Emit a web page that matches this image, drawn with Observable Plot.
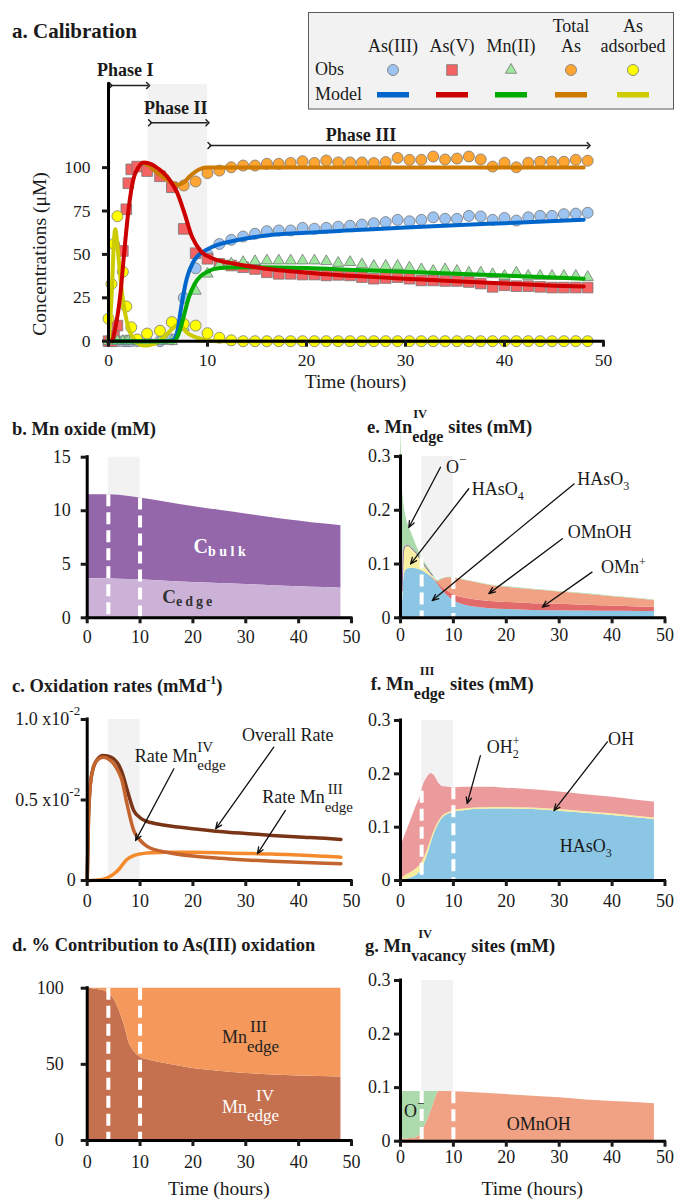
<!DOCTYPE html>
<html><head><meta charset="utf-8">
<script src="https://cdn.jsdelivr.net/npm/d3@7"></script>
<script src="https://cdn.jsdelivr.net/npm/@observablehq/plot@0.6"></script>
<style>
html,body{margin:0;padding:0;background:#fff;}
#fig{position:relative;width:675px;height:1200px;overflow:hidden;background:#fff;}
</style></head><body><div id="fig"></div>
<script>
const FONT = "'Liberation Serif','Times New Roman',serif";

// ================= DATA =================
// Panel a – observations (hours, µM)
const obsTime = [0,0.3,0.55,0.9,1.45,1.8,2.0,2.3,2.9,3.9,5.2,6.4,7.6,8.8,10.0,11.2,12.4,13.6,14.8,16.0,17.2,18.4,19.6,20.8,22.0,23.2,24.4,25.6,26.8,28.0,29.2,30.4,31.6,32.8,34.0,35.2,36.4,37.6,38.8,40.0,41.2,42.4,43.6,44.8,46.0,47.2,48.4];
const asIIIObs = [0,0,0,0,0,0,0,0,0,0,0,1,25,42, 50,56,58.4,60.3,61.9,63.4,63.8,63.8,65.3,64.8,65.3, 66,66.5,67.2,68,68.6,69.9,69.1,69.9,71.4,70.5,70.5,72.2,71.9,69.9,71,69.5,71.4,72.2,72.2,73.2,73.5,74];
const asVObs = [0,0,3,9,52,76,91,99,100.6,98,95,88.7,64.7,50.7, 47.5,44.6,43.6,42.6,41.6,39.7,38.8,38.8,38.4,38.4,37.9, 38.2,37.9,36.9,36,36.4,36.9,36,35,35,34.7,34.7,34.1,33.2,31.3,32.2,31.7,31.7,31.3,30.9,30.9,30.9,30.9];
const mnIIObs = [0,0,0,0,0,0,0,0,0,0,0,0,8,29, 38.8,44,44.6,45.5,46,46.4,46.4,46.4,46.4,46.4,46, 45,45.5,44.2,43.3,43.3,43.3,42.3,41.3,40.4,41.3,40.4,39.4,39.4,38.5,37.5,39.4,37.5,37.5,37.5,37.5,37.5,36.9];
const totalAsObs = [null,null,null,null,null,null,null,null,null,null,null,89,89.7,92, 96.8,98.3,100.2,101.2,101.2,102.2,102.2,102.7,103.7,102.7,104.1, 103,103,103,102.6,103.2,105.6,104.5,104.5,106.4,104.7,105.2,106.4,104.7,100.6,102.8,100.2,102.8,103.4,103.4,103.4,104.5,104];
const asAdsObs = [13,33,56,72,40,20,null,8,1,4.4,6,11,10,9, 4.6,2,0.5,0,0,0,0,0,0,0,0, 0,0,0,0,0,0,0,0,0,0,0,0,0,0,0,0,0,0,0,0,0,0];
// Panel a – model
const asIIIModelT = [0,6,6.6,7,7.3,7.6,7.9,8.5,9,10,11,12,14,16,20,25,30,35,40,45,48];
const asIIIModel  = [0,0,1,7,18,28,36,45,49,53,55.5,57,59.3,60.9,62.5,64,65.5,66.8,68,69.2,70];
const asVModelT = [0,0.3,0.7,1.2,1.6,2.05,2.5,3,3.6,4.3,5,5.9,6.5,6.9,7.6,8.45,9.3,10.6,12.7,15,20,25,30,35,40,45,48];
const asVModel  = [0,0,8,27,52,77,93,100,103,102,99.5,95,90,86,75,60,52,47.5,44.6,42.5,39.5,37.5,36,34.5,33.2,32,31.5];
const mnIIModelT = [0,6.6,7,7.4,8.1,8.7,9.3,10,10.6,12,15,20,25,30,35,40,45,48];
const mnIIModel  = [0,0,3,10,25,33,37.5,40,41.5,42.5,42.6,42.1,41,40,38.8,37.8,36.7,36];
const totAsModelT = [3.4,4,4.6,5.25,6.2,7.0,7.6,8.3,9.3,10,11,48];
const totAsModel  = [102.8,101.5,98.5,95.5,92,90,91.5,95.5,99.3,100,100,100];
const asAdsModelT = [0,0.15,0.37,0.55,0.7,0.85,1.04,1.38,1.9,2.56,3.57,4.6,5.6,6.6,7.1,7.9,9.3,10.9,48];
const asAdsModel  = [0,10,33,58,64.5,58,46.5,27,10,1.4,-2.5,-1.5,2.3,8,10,5,1.4,0,0];
const legendNames = [["As(III)"],["As(V)"],["Mn(II)"],["Total","As"],["As","adsorbed"]];
const phaseLabels = ["Phase I","Phase II","Phase III"];
const phaseBand = {start: 4, end: 10};
const phaseBounds = [4, 10];

// Panel b – Mn oxide (mM)
const mnTime  = [0,4,6,10,15,20,25,30,35,40,45,48];
const mnTotal = [11.5,11.5,11.45,11.2,10.8,10.4,10.05,9.7,9.35,9.05,8.75,8.6];
const mnEdge  = [3.65,3.63,3.61,3.55,3.42,3.3,3.2,3.1,3.0,2.9,2.82,2.77];

// Panel c – oxidation rates (x10^-2 mM/d)
const rateTime = [0,0.25,0.5,1,1.5,2,3,4,5,6,6.6,7.5,8.8,10,11,12,15,20,25,30,35,40,45,48];
const rateOverall = [0,0.4,0.56,0.68,0.73,0.755,0.776,0.772,0.756,0.715,0.67,0.57,0.435,0.39,0.37,0.36,0.342,0.322,0.305,0.292,0.28,0.27,0.262,0.255];
const rateIV  = [0,0.4,0.56,0.68,0.73,0.75,0.765,0.755,0.725,0.67,0.62,0.48,0.31,0.25,0.22,0.2,0.176,0.152,0.138,0.128,0.12,0.113,0.107,0.104];
const rateIII = [0,0,0,0.001,0.002,0.003,0.008,0.02,0.04,0.07,0.095,0.13,0.155,0.165,0.17,0.173,0.176,0.175,0.172,0.168,0.165,0.158,0.15,0.145];
const cTickLabels = ["0","0.5 x10","1.0 x10"];

// Panel d – % contribution
const pctTime = [0,2,4,5,6,7,8,9,10,12,15,20,25,30,35,40,48];
const pctIV   = [100,99.2,97,93,86,76,63.5,58,54.8,52.5,50.4,47.2,45.4,44,43,42.3,41.7];

// Panel e – Mn(IV) edge sites (mM), layer thickness
const eTime   = [0,0.15,0.3,0.6,1,1.5,2,3,4,5,6,7,8,9,10,12,14,17,20,25,30,35,40,45,48];
const eHAsO3  = [0,0.003,0.01,0.07,0.088,0.091,0.092,0.091,0.088,0.082,0.074,0.063,0.05,0.04,0.032,0.024,0.02,0.017,0.0155,0.0138,0.013,0.0125,0.012,0.0118,0.0117];
const eOMn    = [0,0,0,0,0,0,0,0,0,0,0.001,0.003,0.006,0.009,0.011,0.013,0.0135,0.0135,0.013,0.0125,0.012,0.011,0.01,0.0085,0.008];
const eOMnOH  = [0,0,0,0,0,0,0,0,0,0,0,0.001,0.016,0.0255,0.031,0.033,0.0325,0.0295,0.0285,0.0257,0.023,0.0205,0.017,0.0147,0.0123];
const eHAsO4  = [0,0.007,0.04,0.055,0.046,0.043,0.038,0.029,0.017,0.009,0.004,0,0,0,0,0,0,0,0,0,0,0,0,0,0];
const eO      = [0.36,0.3,0.205,0.09,0.056,0.038,0.03,0.015,0.008,0.006,0.004,0.002,0.001,0.001,0.001,0.001,0.001,0.001,0.001,0.001,0.001,0.001,0.001,0.001,0.001];

// Panel f – Mn(III) edge sites (mM)
const fTime  = [0,1,2,3,3.8,4.2,5,5.8,6.5,7.2,8,9,10,12,14,17,20,25,30,35,40,45,48];
const fHAsO3 = [0,0.002,0.005,0.01,0.018,0.025,0.045,0.07,0.09,0.105,0.117,0.124,0.128,0.131,0.133,0.134,0.134,0.133,0.13,0.126,0.122,0.117,0.114];
const fOH    = [0.002,0.008,0.01,0.012,0.012,0.012,0.01,0.008,0.006,0.005,0.004,0.003,0.003,0.003,0.003,0.003,0.003,0.003,0.003,0.003,0.003,0.003,0.003];
const fOH2   = [0.06,0.078,0.099,0.118,0.13,0.138,0.137,0.122,0.099,0.073,0.055,0.048,0.043,0.041,0.039,0.038,0.036,0.034,0.033,0.032,0.031,0.03,0.03];

// Panel g – Mn(IV) vacancy sites (mM)
const gTime   = [0,1,2,3,3.5,4,4.5,5,5.5,6,6.5,7,7.3,8,10,15,20,25,30,35,40,45,48];
const gOMnOH  = [0.003,0.004,0.005,0.007,0.01,0.016,0.026,0.037,0.049,0.062,0.077,0.09,0.093,0.093,0.0925,0.09,0.087,0.084,0.081,0.077,0.074,0.072,0.07];
const gO      = [0.09,0.089,0.088,0.086,0.083,0.077,0.067,0.056,0.044,0.031,0.016,0.003,0,0,0,0,0,0,0,0,0,0,0];

// ================= ANNOTATIONS (data coords) =================
const phaseArrows = [
  {label: phaseLabels[0], x1: 0.2, x2: 4.0, y: 147.3, lx: 1.7, ly: 155.9},
  {label: phaseLabels[1], x1: 4.2, x2: 10.0, y: 125.8, lx: 6.8, ly: 134.3},
  {label: phaseLabels[2], x1: 10.2, x2: 48.5, y: 112.7, lx: 25.5, ly: 118.5}
];
const cLabels = [
  {x: 9.1, y: 0.733, parts: [{t:"Rate Mn"},{sup:"IV", sub:"edge", supDy:-9.5, subDy:8.5, supSize:15, subSize:15}]},
  {x: 29.4, y: 0.863, parts: [{t:"Overall Rate"}]},
  {x: 33.2, y: 0.476, parts: [{t:"Rate Mn"},{sup:"III", sub:"edge", supDx:3, supDy:-9.5, subDy:8.5, supSize:15, subSize:15}]}
];
const cArrows = [
  {x1:16.4,y1:0.694,x2:9.15,y2:0.248},
  {x1:35.3,y1:0.828,x2:24.3,y2:0.321},
  {x1:37.5,y1:0.435,x2:32.2,y2:0.166}
];
const eLabels = [
  {x: 8.7, y: 0.268, parts: [{t:"O"},{sup:"−", supDy:-9, supSize:13}]},
  {x: 13.55, y: 0.227, parts: [{t:"HAsO"},{sub:"4", subDy:5, subSize:12}]},
  {x: 33.5, y: 0.246, parts: [{t:"HAsO"},{sub:"3", subDy:5, subSize:12}]},
  {x: 31.7, y: 0.147, parts: [{t:"OMnOH"}]},
  {x: 38.0, y: 0.082, parts: [{t:"OMn"},{sup:"+", supDy:-7, supSize:12}]}
];
const eArrows = [
  {x1:7.56,y1:0.28,x2:1.57,y2:0.168},
  {x1:12.9,y1:0.24,x2:1.9,y2:0.1},
  {x1:32.8,y1:0.249,x2:6.0,y2:0.032},
  {x1:30.6,y1:0.147,x2:16.7,y2:0.045},
  {x1:36.2,y1:0.085,x2:26.8,y2:0.02}
];
const fLabels = [
  {x: 16.4, y: 0.238, parts: [{t:"OH"},{sup:"+", sub:"2", supDy:-8, subDy:5, supSize:12, subSize:12}]},
  {x: 39.3, y: 0.253, parts: [{t:"OH"}]},
  {x: 30.2, y: 0.0525, parts: [{t:"HAsO"},{sub:"3", subDy:5, subSize:12}]}
];
const fArrows = [
  {x1:15.1,y1:0.234,x2:12.6,y2:0.144},
  {x1:39.1,y1:0.26,x2:29.0,y2:0.131}
];
const dLabels = [
  {x: 25.6, y: 63.7, fill: "#222", parts: [{t:"Mn"},{sup:"III", sub:"edge", supDx:3, supDy:-11, subDy:9, supSize:17, subSize:17}]},
  {x: 25.6, y: 17.9, fill: "#fff", parts: [{t:"Mn"},{sup:"IV", sub:"edge", supDx:9, supDy:-12, subDy:8, supSize:17, subSize:17}]}
];
const bLabels = [
  {x: 20.2, y: 5.98, fill: "#fff", weight: "bold", parts: [{t:"C", size:20},{sub:"bulk", subDy:2.5, subSize:14, ls:3.5}]},
  {x: 14.3, y: 1.36, fill: "#333", weight: "bold", parts: [{t:"C", size:19},{sub:"edge", subDy:3.5, subSize:14, ls:3}]}
];
const gLabels = [
  {x: 0.76, y: 0.0448, parts: [{t:"O"},{sup:"−", supDy:-9, supSize:13}]},
  {x: 20.2, y: 0.02, parts: [{t:"OMnOH"}]}
];

// ================= HELPERS =================
const fig = d3.select("#fig");
const interp = (ts, vs, t) => {
  const i = Math.max(0, d3.bisectRight(ts, t) - 1);
  if (i >= ts.length - 1) return vs[vs.length - 1];
  const f = (t - ts[i]) / (ts[i + 1] - ts[i]);
  return vs[i] + f * (vs[i + 1] - vs[i]);
};
const stackTop = (ts, arrays, t) => d3.sum(arrays, a => interp(ts, a, t));

function rich(parent, x, y, parts, o = {}) {
  const size = o.size ?? 18;
  const g = parent.append("g")
    .attr("font-family", FONT)
    .attr("text-anchor", "start")
    .attr("font-weight", o.weight ?? "normal")
    .attr("fill", o.fill ?? "#1a1a1a");
  let cx = 0;
  const add = (txt, px, py, fs, p) => {
    const el = g.append("text").attr("x", px).attr("y", py).attr("font-size", fs).attr("text-anchor", "start").text(txt);
    if (p.ls) el.attr("letter-spacing", p.ls);
    return el.node().getComputedTextLength();
  };
  for (const p of parts) {
    cx += p.gap ?? 0;
    if (p.t != null) {
      cx += add(p.t, cx, 0, p.size ?? size, p);
    } else {
      let w = 0;
      const sdx = p.supDx ?? 0;
      if (p.sup != null) w = Math.max(w, sdx + add(p.sup, cx + sdx, p.supDy ?? -size * 0.42, p.supSize ?? size * 0.72, p));
      if (p.sub != null) w = Math.max(w, add(p.sub, cx, p.subDy ?? size * 0.4, p.subSize ?? size * 0.72, p));
      cx += w;
    }
  }
  const shift = o.anchor === "end" ? -cx : o.anchor === "middle" ? -cx / 2 : 0;
  g.attr("transform", `translate(${x + shift},${y})`);
  return g;
}

function panel(o) {
  const chart = Plot.plot({
    width: o.width, height: o.height,
    marginLeft: o.mL, marginRight: o.mR, marginTop: o.mT, marginBottom: o.mB,
    x: {domain: o.xDomain},
    y: {domain: o.yDomain},
    color: o.color,
    style: {background: "none", overflow: "visible", fontFamily: FONT, color: "#1a1a1a", maxWidth: "none"},
    marks: [
      ...o.marks,
      Plot.ruleY([o.yDomain[0]], {stroke: "#000", strokeWidth: 3, strokeLinecap: "square"}),
      Plot.ruleX([o.xDomain[0]], {stroke: "#000", strokeWidth: 3, strokeLinecap: "square"}),
      Plot.axisX({ticks: o.xTicks, tickSize: 6, tickPadding: o.xPad, strokeWidth: 3, fontSize: o.fs, tickFormat: d => String(d), label: null}),
      Plot.axisY({ticks: o.yTicks, tickSize: 6, tickPadding: o.yPad, strokeWidth: 3, fontSize: o.fs, tickFormat: o.yFmt ?? (d => String(d)), label: null})
    ]
  });
  chart.style.position = "absolute";
  chart.style.left = o.left + "px";
  chart.style.top = o.top + "px";
  fig.node().appendChild(chart);
  const xs = chart.scale("x"), ys = chart.scale("y");
  chart.px = xs.apply ? v => xs.apply(v) : d3.scaleLinear(xs.domain, xs.range);
  chart.py = ys.apply ? v => ys.apply(v) : d3.scaleLinear(ys.domain, ys.range);
  return chart;
}
function addLabels(chart, labels, size = 18) {
  const s = d3.select(chart);
  for (const l of labels) rich(s, chart.px(l.x), chart.py(l.y), l.parts, {size, fill: l.fill, weight: l.weight});
}
const arrowMark = data => Plot.arrow(data, {x1:"x1", y1:"y1", x2:"x2", y2:"y2", stroke:"#111", strokeWidth:1.3, headLength:8, headAngle:45});
const band = (yTop) => Plot.rect([phaseBand], {x1:"start", x2:"end", y1: () => 0, y2: () => yTop, fill:"#f2f2f2"});
const dashes = (topFn) => Plot.ruleX(phaseBounds, {x: d => d, y1: d => topFn(d), y2: () => 0, stroke:"#fff", strokeWidth:4, strokeDasharray:"12,6"});

const X = [0, 50], XT = [0,10,20,30,40,50];

// ================= PANEL A =================
const colA = {
  asIII: {fill:"#9dc4f0", line:"#0066cc", sym:"circle", r:5.5},
  asV:   {fill:"#f56464", line:"#cc0000", sym:"square", r:6},
  mnII:  {fill:"#9ee69e", line:"#00aa00", sym:"triangle", r:4.2},
  totAs: {fill:"#ffa533", line:"#cc7a00", sym:"circle", r:5.5},
  asAds: {fill:"#ffff00", line:"#cccc00", sym:"circle", r:5.5}
};
const rowsObs = obsTime.map((t, i) => ({t, asIII: asIIIObs[i], asV: asVObs[i], mnII: mnIIObs[i], totAs: totalAsObs[i], asAds: asAdsObs[i]}));
const obsMark = key => Plot.dot(rowsObs.filter(d => d[key] != null), {x:"t", y:key, symbol: colA[key].sym, r: colA[key].r, fill: colA[key].fill, stroke:"#777", strokeWidth:0.8});
const modelMark = (ts, vs, key) => Plot.line(ts.map((t, i) => ({t, v: vs[i]})), {x:"t", y:"v", stroke: colA[key].line, strokeWidth:4, curve:"monotone-x"});
const YA = [0, 148];
const chartA = panel({
  left:0, top:0, width:675, height:400, mL:108, mR:72, mT:83.8, mB:59.3,
  xDomain:X, yDomain:YA, xTicks:XT, yTicks:[0,25,50,75,100], xPad:6, yPad:12, fs:17.5,
  marks: [
    band(YA[1]),
    obsMark("totAs"), obsMark("asIII"), obsMark("asV"), obsMark("mnII"), obsMark("asAds"),
    modelMark(totAsModelT, totAsModel, "totAs"),
    modelMark(asAdsModelT, asAdsModel, "asAds"),
    modelMark(asIIIModelT, asIIIModel, "asIII"),
    modelMark(mnIIModelT, mnIIModel, "mnII"),
    modelMark(asVModelT, asVModel, "asV"),
    Plot.link(phaseArrows, {x1:"x1", x2:"x2", y1:"y", y2:"y", stroke:"#222", strokeWidth:1.5, markerStart:"arrow", markerEnd:"arrow"}),
    Plot.text(phaseArrows, {x:"lx", y:"ly", text:"label", fontWeight:"bold", fontSize:18, fill:"#1a1a1a"})
  ]
});

// ================= PANEL B =================
const bRows = mnTime.map((t, i) => ({t, total: mnTotal[i], edge: mnEdge[i]}));
const chartB = panel({
  left:0, top:440, width:370, height:220, mL:86.7, mR:19, mT:16.7, mB:42.7,
  xDomain:X, yDomain:[0,15], xTicks:XT, yTicks:[0,5,10,15], xPad:6, yPad:10.5, fs:18,
  marks: [
    band(15),
    Plot.areaY(bRows, {x:"t", y1:"edge", y2:"total", fill:"#9467ab", curve:"monotone-x"}),
    Plot.areaY(bRows, {x:"t", y1: () => 0, y2:"edge", fill:"#cdb2d8", curve:"monotone-x"}),
    dashes(t => interp(mnTime, mnTotal, t))
  ]
});
addLabels(chartB, bLabels);

// ================= PANEL C =================
const cRows = rateTime.map((t, i) => ({t, overall: rateOverall[i], iv: rateIV[i], iii: rateIII[i]}));
const chartC = panel({
  left:0, top:700, width:370, height:220, mL:86.7, mR:19, mT:19, mB:40,
  xDomain:X, yDomain:[0,1], xTicks:XT, yTicks:[0,0.5,1], xPad:8, yPad:5.5, fs:18,
  yFmt: d => d === 0 ? cTickLabels[0] : "",
  marks: [
    band(1),
    Plot.line(cRows, {x:"t", y:"iii", stroke:"#f58a2c", strokeWidth:3.5, curve:"monotone-x"}),
    Plot.line(cRows, {x:"t", y:"overall", stroke:"#7a3516", strokeWidth:3.5, curve:"monotone-x"}),
    Plot.line(cRows, {x:"t", y:"iv", stroke:"#c4652f", strokeWidth:3.5, curve:"monotone-x"}),
    arrowMark(cArrows)
  ]
});
addLabels(chartC, cLabels);
[[0.5, cTickLabels[1]], [1, cTickLabels[2]]].forEach(([v, lab]) => {
  rich(d3.select(chartC), chartC.px(0) - 6.5, chartC.py(v) + 6, [{t: lab}, {sup:"-2", supDy:-10, supSize:13}], {size:18, anchor:"end"});
});

// ================= PANEL D =================
const dRows = pctTime.map((t, i) => ({t, iv: pctIV[i]}));
const chartD = panel({
  left:0, top:960, width:370, height:240, mL:86.7, mR:19, mT:27.7, mB:60,
  xDomain:X, yDomain:[0,100], xTicks:XT, yTicks:[0,50,100], xPad:9, yPad:17.5, fs:18,
  marks: [
    Plot.areaY(dRows, {x:"t", y1: () => 0, y2:"iv", fill:"#c5714f", curve:"monotone-x"}),
    Plot.areaY(dRows, {x:"t", y1:"iv", y2: () => 100, fill:"#f4995b", curve:"monotone-x"}),
    dashes(() => 100)
  ]
});
addLabels(chartD, dLabels);

// ================= PANEL E =================
const eSeries = [["HAsO3", eHAsO3, "#8cc6e5"], ["OMn+", eOMn, "#e26a6a"], ["OMnOH", eOMnOH, "#f1a284"], ["HAsO4", eHAsO4, "#f7f0a2"], ["O-", eO, "#acdaac"]];
const eRows = eSeries.flatMap(([s, vs]) => eTime.map((t, i) => ({t, s, v: vs[i]})));
const ePurple = eTime.map((t, i) => ({t, v: eHAsO3[i] + eOMn[i] + eOMnOH[i] + eHAsO4[i]})).filter(d => d.t >= 0.3 && d.t <= 6);
const chartE = panel({
  left:337, top:440, width:338, height:220, mL:63, mR:10.5, mT:16, mB:42.7,
  xDomain:X, yDomain:[0,0.3], xTicks:XT, yTicks:[0,0.1,0.2,0.3], xPad:4, yPad:4, fs:18,
  color: {domain: eSeries.map(d => d[0]), range: eSeries.map(d => d[2])},
  marks: [
    band(0.3),
    Plot.areaY(eRows, {x:"t", y:"v", fill:"s", order: eSeries.map(d => d[0]), curve:"monotone-x"}),
    Plot.line(ePurple, {x:"t", y:"v", stroke:"#8e5fb5", strokeWidth:1, curve:"monotone-x"}),
    dashes(t => stackTop(eTime, eSeries.map(d => d[1]), t)),
    arrowMark(eArrows)
  ]
});
addLabels(chartE, eLabels);

// ================= PANEL F =================
const fSeries = [["HAsO3", fHAsO3, "#8cc6e5"], ["OH", fOH, "#f7ec9c"], ["OH2+", fOH2, "#eb9b9b"]];
const fRows = fSeries.flatMap(([s, vs]) => fTime.map((t, i) => ({t, s, v: vs[i]})));
const chartF = panel({
  left:337, top:700, width:338, height:220, mL:63, mR:10.5, mT:20, mB:40,
  xDomain:X, yDomain:[0,0.3], xTicks:XT, yTicks:[0,0.1,0.2,0.3], xPad:8, yPad:4, fs:18,
  color: {domain: fSeries.map(d => d[0]), range: fSeries.map(d => d[2])},
  marks: [
    band(0.3),
    Plot.areaY(fRows, {x:"t", y:"v", fill:"s", order: fSeries.map(d => d[0]), curve:"monotone-x"}),
    dashes(t => stackTop(fTime, fSeries.map(d => d[1]), t)),
    arrowMark(fArrows)
  ]
});
addLabels(chartF, fLabels);

// ================= PANEL G =================
const gSeries = [["OMnOH", gOMnOH, "#f1a284"], ["O-", gO, "#acdaac"]];
const gRows = gSeries.flatMap(([s, vs]) => gTime.map((t, i) => ({t, s, v: vs[i]})));
const chartG = panel({
  left:337, top:960, width:338, height:240, mL:63, mR:10.5, mT:20, mB:59.3,
  xDomain:X, yDomain:[0,0.3], xTicks:XT, yTicks:[0,0.1,0.2,0.3], xPad:3, yPad:4, fs:18,
  color: {domain: gSeries.map(d => d[0]), range: gSeries.map(d => d[2])},
  marks: [
    band(0.3),
    Plot.areaY(gRows, {x:"t", y:"v", fill:"s", order: gSeries.map(d => d[0]), curve:"monotone-x"}),
    dashes(t => stackTop(gTime, gSeries.map(d => d[1]), t))
  ]
});
addLabels(chartG, gLabels);

// ================= OVERLAY: titles, axis titles, legend =================
const ov = fig.append("svg").attr("width", 675).attr("height", 1200)
  .style("position", "absolute").style("left", "0px").style("top", "0px").style("overflow", "visible").style("pointer-events", "none");
const TB = {size: 18.5, weight: "bold"};
rich(ov, 12, 38, [{t:"a. Calibration"}], {size: 21, weight: "bold"});
rich(ov, 12, 435, [{t:"b. Mn oxide (mM)"}], TB);
rich(ov, 12, 692, [{t:"c. Oxidation rates (mMd"}, {sup:"-1", supDy:-8, supSize:12}, {t:")"}], TB);
rich(ov, 12, 951, [{t:"d. % Contribution to As(III) oxidation"}], TB);
rich(ov, 367, 433, [{t:"e. Mn"}, {sup:"IV", sub:"edge", supDx:1, supDy:-15.5, subDy:8.5, supSize:12.5, subSize:16}, {t:"sites (mM)", gap:5}], TB);
rich(ov, 370.7, 690, [{t:"f. Mn"}, {sup:"III", sub:"edge", supDx:6, supDy:-15, subDy:9, supSize:12.5, subSize:16}, {t:"sites (mM)", gap:5}], TB);
rich(ov, 365, 952, [{t:"g. Mn"}, {sup:"IV", sub:"vacancy", supDx:7, supDy:-14, subDy:8.5, supSize:12.5, subSize:16}, {t:"sites (mM)", gap:5}], TB);

// axis titles
ov.append("text").attr("transform", "translate(46,254) rotate(-90)").attr("text-anchor", "middle")
  .attr("font-family", FONT).attr("font-size", 19.5).attr("fill", "#1a1a1a").text("Concentrations (μM)");
[[chartA, 0, 388], [chartD, 0, 1195], [chartG, 337, 1195]].forEach(([c, off, y]) => {
  const cxp = off + (c.px(X[0]) + c.px(X[1])) / 2;
  ov.append("text").attr("x", cxp).attr("y", y).attr("text-anchor", "middle")
    .attr("font-family", FONT).attr("font-size", 19.5).attr("fill", "#1a1a1a").text("Time (hours)");
});

// legend
const lg = ov.append("g").attr("font-family", FONT).attr("font-size", 18).attr("fill", "#1a1a1a");
lg.append("rect").attr("x", 308.5).attr("y", 12.5).attr("width", 365).attr("height", 96.5).attr("fill", "#f2f2f2").attr("stroke", "#5a5a5a");
lg.append("text").attr("x", 315).attr("y", 75).text("Obs");
lg.append("text").attr("x", 315).attr("y", 100).text("Model");
const legX = [393, 452, 511, 571, 633];
const keys = ["asIII", "asV", "mnII", "totAs", "asAds"];
const symMap = {circle: d3.symbolCircle, square: d3.symbolSquare, triangle: d3.symbolTriangle};
keys.forEach((k, i) => {
  const c = colA[k], nm = legendNames[i];
  nm.forEach((line, j) => {
    lg.append("text").attr("x", legX[i]).attr("y", 52 - (nm.length - 1 - j) * 20).attr("text-anchor", "middle").text(line);
  });
  lg.append("path").attr("transform", `translate(${legX[i]},70)`)
    .attr("d", d3.symbol(symMap[c.sym], Math.PI * c.r * c.r)())
    .attr("fill", c.fill).attr("stroke", "#777").attr("stroke-width", 0.8);
  lg.append("rect").attr("x", legX[i] - 16).attr("y", 92).attr("width", 32).attr("height", 5.5).attr("fill", c.line);
});
</script></body></html>
